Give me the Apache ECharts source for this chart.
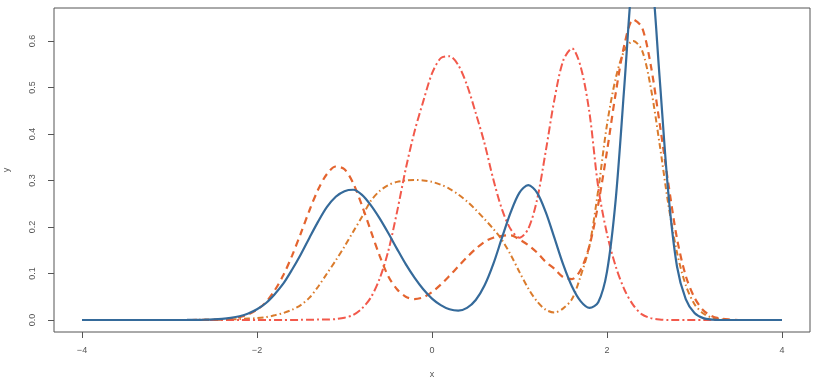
<!DOCTYPE html>
<html>
<head>
<meta charset="utf-8">
<script src="https://cdn.jsdelivr.net/npm/echarts@6/dist/echarts.min.js"></script>
<style>
  html, body { margin: 0; padding: 0; background: #fff; }
  #densityChart { width: 818px; height: 384px; }
</style>
</head>
<body>
<div id="densityChart"></div>
<script>
// x grid the curves were read at
const xs = [-4, -3.0, -2.9, -2.8, -2.7, -2.6, -2.5, -2.4, -2.3, -2.2, -2.1, -2.0, -1.9, -1.8, -1.7, -1.6, -1.5, -1.4, -1.3, -1.2, -1.1, -1.0, -0.9, -0.8, -0.7, -0.6, -0.5, -0.4, -0.3, -0.2, -0.1, 0.0, 0.1, 0.2, 0.3, 0.4, 0.5, 0.6, 0.7, 0.8, 0.9, 1.0, 1.1, 1.2, 1.3, 1.4, 1.5, 1.6, 1.7, 1.8, 1.9, 2.0, 2.1, 2.2, 2.3, 2.4, 2.5, 2.6, 2.7, 2.8, 2.9, 3.0, 3.1, 3.2, 3.3, 3.4, 3.5, 3.6, 4]

// solid blue
const solidY = [0, 0, 0, 0.0001, 0.0003, 0.0006, 0.0012, 0.0024, 0.0045, 0.0081, 0.014, 0.023, 0.036, 0.055, 0.078, 0.108, 0.141, 0.177, 0.212, 0.243, 0.265, 0.277, 0.280, 0.269, 0.247, 0.219, 0.187, 0.153, 0.120, 0.091, 0.066, 0.046, 0.032, 0.023, 0.020, 0.026, 0.043, 0.074, 0.120, 0.177, 0.232, 0.274, 0.290, 0.274, 0.232, 0.176, 0.119, 0.072, 0.040, 0.026, 0.038, 0.104, 0.260, 0.508, 0.761, 0.870, 0.770, 0.525, 0.275, 0.115, 0.045, 0.015, 0.004, 0.001, 0, 0, 0, 0, 0]
// dashed orange-red
const dashedY = [0, 0, 0, 0, 0.0001, 0.0002, 0.0006, 0.0013, 0.003, 0.006, 0.012, 0.022, 0.038, 0.063, 0.096, 0.138, 0.186, 0.236, 0.281, 0.314, 0.330, 0.324, 0.294, 0.246, 0.192, 0.139, 0.094, 0.066, 0.050, 0.045, 0.049, 0.060, 0.076, 0.095, 0.115, 0.135, 0.153, 0.168, 0.177, 0.181, 0.182, 0.173, 0.161, 0.145, 0.125, 0.110, 0.092, 0.088, 0.108, 0.160, 0.249, 0.363, 0.488, 0.593, 0.646, 0.629, 0.548, 0.425, 0.295, 0.175, 0.095, 0.048, 0.021, 0.008, 0.003, 0.001, 0, 0, 0]
// red dot-dash
const dotDashY = [0, 0, 0, 0, 0, 0, 0, 0, 0, 0, 0, 0, 0, 0, 0, 0, 0.0003, 0.0005, 0.001, 0.001, 0.002, 0.005, 0.011, 0.025, 0.048, 0.088, 0.148, 0.232, 0.325, 0.405, 0.470, 0.530, 0.563, 0.567, 0.548, 0.505, 0.445, 0.380, 0.303, 0.238, 0.195, 0.177, 0.196, 0.258, 0.363, 0.475, 0.558, 0.584, 0.544, 0.445, 0.285, 0.185, 0.115, 0.065, 0.032, 0.012, 0.004, 0.001, 0, 0, 0, 0, 0, 0, 0, 0, 0, 0, 0]
// orange long dash-dot
const longDashY = [0, 0, 0, 0, 0.0002, 0.0004, 0.0007, 0.001, 0.0015, 0.002, 0.003, 0.004, 0.006, 0.010, 0.015, 0.022, 0.032, 0.048, 0.072, 0.100, 0.128, 0.158, 0.190, 0.222, 0.256, 0.277, 0.290, 0.297, 0.300, 0.301, 0.300, 0.297, 0.291, 0.282, 0.270, 0.255, 0.237, 0.217, 0.196, 0.172, 0.140, 0.103, 0.068, 0.040, 0.022, 0.016, 0.025, 0.045, 0.095, 0.160, 0.280, 0.420, 0.520, 0.580, 0.600, 0.580, 0.500, 0.380, 0.250, 0.145, 0.075, 0.034, 0.014, 0.005, 0.002, 0, 0, 0, 0]

const xTicks = [-4, -2, 0, 2, 4]
const yTicks = [0, 0.1, 0.2, 0.3, 0.4, 0.5, 0.6]

const pairs = (ys) => xs.map((x, i) => [x, ys[i]])
const axisGrey = '#555'
const labelFont = { color: '#555', fontSize: 9, fontFamily: 'Liberation Sans, Arial, sans-serif' }

const curve = (name, ys, color, type, width) => ({
  name: name,
  type: 'line',
  data: pairs(ys),
  smooth: 0.3,
  symbol: 'none',
  clip: true,
  lineStyle: { color: color, width: width, type: type },
})

const option = {
  animation: false,
  grid: {
    left: 54,
    top: 8,
    width: 756,
    height: 324,
    containLabel: false,
    outerBoundsMode: 'none',
    show: true,
    borderColor: axisGrey,
    borderWidth: 1,
  },
  xAxis: {
    type: 'value',
    min: -4.32,
    max: 4.32,
    name: 'x',
    nameLocation: 'middle',
    nameGap: 38,
    nameTextStyle: labelFont,
    axisLine: { show: false, onZero: false },
    splitLine: { show: false },
    axisTick: { show: true, length: 6, customValues: xTicks, lineStyle: { color: axisGrey } },
    axisLabel: {
      ...labelFont,
      margin: 14,
      customValues: xTicks,
      formatter: (v) => (v < 0 ? '\u2212' + Math.abs(v) : String(v)),
    },
  },
  yAxis: {
    type: 'value',
    min: -0.0258,
    max: 0.6708,
    name: 'y',
    nameLocation: 'middle',
    nameGap: 43,
    nameRotate: 90,
    nameTextStyle: labelFont,
    axisLine: { show: false, onZero: false },
    splitLine: { show: false },
    axisTick: { show: true, length: 6, customValues: yTicks, lineStyle: { color: axisGrey } },
    axisLabel: {
      ...labelFont,
      rotate: 90,
      margin: 17,
      customValues: yTicks,
      formatter: (v) => v.toFixed(1),
    },
  },
  series: [
    curve('long dash', longDashY, '#da7b2c', [6, 3, 1.5, 3], 2),
    curve('dot dash', dotDashY, '#f2594b', [8, 3, 2, 3], 2),
    curve('dashed', dashedY, '#e4642f', [7, 5], 2.2),
    curve('solid', solidY, '#356a9a', 'solid', 2.2),
  ],
}

const chart = echarts.init(document.getElementById('densityChart'))
chart.setOption(option)
window.onresize = function () {
  chart.resize()
}
</script>
</body>
</html>
